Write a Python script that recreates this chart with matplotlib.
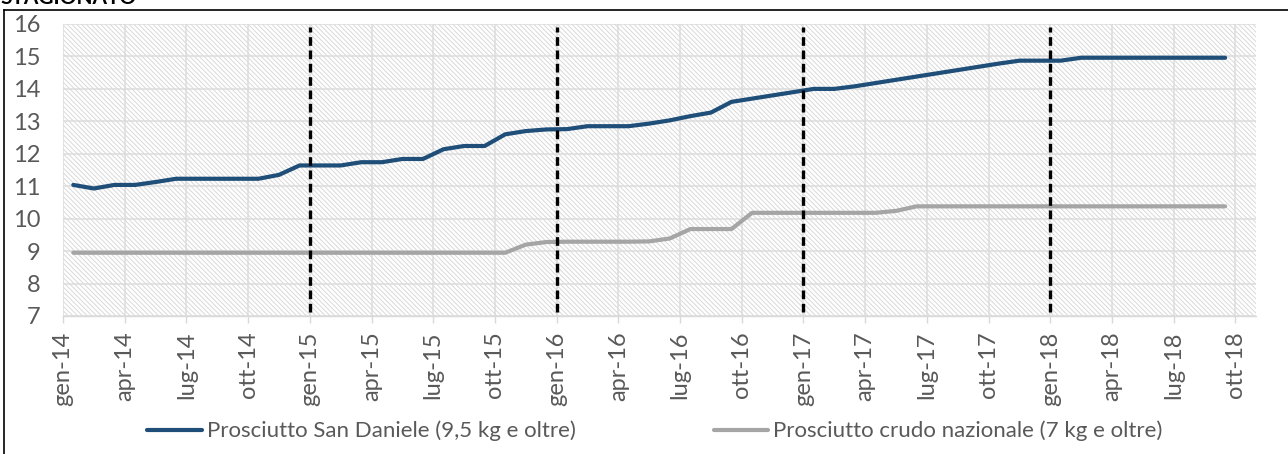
import matplotlib
matplotlib.use("Agg")
import matplotlib.pyplot as plt
import numpy as np
from matplotlib.patches import Rectangle
from matplotlib.lines import Line2D

plt.rcParams['font.family'] = ['Lato', 'DejaVu Sans']
plt.rcParams['hatch.linewidth'] = 0.7

# ---------------- data ----------------
title = "STAGIONATO"
series_names = ["Prosciutto San Daniele (9,5 kg e oltre)",
                "Prosciutto crudo nazionale (7 kg e oltre)"]
# monthly values gen-14 .. set-18 (57 months)
san_daniele = [11.04, 10.93, 11.04, 11.04, 11.13, 11.23, 11.23, 11.23, 11.23, 11.23, 11.35, 11.64,   # 2014
               11.64, 11.64, 11.74, 11.74, 11.84, 11.84, 12.14, 12.24, 12.24, 12.60, 12.70, 12.75,   # 2015
               12.76, 12.85, 12.85, 12.85, 12.93, 13.03, 13.16, 13.27, 13.60, 13.70, 13.80, 13.90,   # 2016
               14.00, 14.00, 14.08, 14.18, 14.28, 14.38, 14.48, 14.58, 14.68, 14.78, 14.87, 14.87,   # 2017
               14.87, 14.96, 14.96, 14.96, 14.96, 14.96, 14.96, 14.96, 14.96]                        # 2018
crudo_nazionale = [8.95, 8.95, 8.95, 8.95, 8.95, 8.95, 8.95, 8.95, 8.95, 8.95, 8.95, 8.95,          # 2014
                   8.95, 8.95, 8.95, 8.95, 8.95, 8.95, 8.95, 8.95, 8.95, 8.95, 9.20, 9.28,          # 2015
                   9.29, 9.29, 9.29, 9.29, 9.30, 9.39, 9.68, 9.68, 9.68, 10.18, 10.18, 10.18,       # 2016
                   10.18, 10.18, 10.18, 10.18, 10.24, 10.38, 10.38, 10.38, 10.38, 10.38, 10.38, 10.38,  # 2017
                   10.38, 10.38, 10.38, 10.38, 10.38, 10.38, 10.38, 10.38, 10.38]                  # 2018
tick_labels = ["gen-14", "apr-14", "lug-14", "ott-14",
               "gen-15", "apr-15", "lug-15", "ott-15",
               "gen-16", "apr-16", "lug-16", "ott-16",
               "gen-17", "apr-17", "lug-17", "ott-17",
               "gen-18", "apr-18", "lug-18", "ott-18"]
year_marks = ["gen-15", "gen-16", "gen-17", "gen-18"]
y_ticks = [7, 8, 9, 10, 11, 12, 13, 14, 15, 16]

# ---------------- layout ----------------
W, H = 1288, 454
fig = plt.figure(figsize=(W / 100, H / 100), dpi=100)
L, R, T, B = 63, 1256, 24, 316
ax = fig.add_axes([L / W, 1 - B / H, (R - L) / W, (B - T) / H])

months_total = 58  # gen-14 .. ott-18 slots
x_pts = np.arange(len(san_daniele)) + 0.5
tick_pos = [3 * i for i in range(len(tick_labels))]

ax.set_xlim(0, months_total)
ax.set_ylim(min(y_ticks), max(y_ticks))

# hatched plot area
bg = Rectangle((0, 0), 1, 1, transform=ax.transAxes, facecolor='white',
               edgecolor='#d9d9d9', hatch='\\\\\\\\\\\\\\', lw=0, zorder=0.1)
ax.add_patch(bg)
ax.patch.set_visible(False)

ax.set_axisbelow(True)
ax.grid(True, color='#dcdcdc', lw=1.1)

ax.plot(x_pts, san_daniele, color='#1F4E79', lw=3.0, solid_joinstyle='round',
        solid_capstyle='round', label=series_names[0], zorder=3)
ax.plot(x_pts, crudo_nazionale, color='#A5A5A5', lw=3.0, solid_joinstyle='round',
        solid_capstyle='round', label=series_names[1], zorder=3)

for lab in year_marks:
    xv = tick_pos[tick_labels.index(lab)]
    ax.plot([xv, xv], [7.12, 15.92], color='black', lw=2.4,
            dashes=(2.6, 1.4), dash_capstyle='butt', zorder=4)

ax.set_xticks(tick_pos)
ax.set_xticklabels(tick_labels, rotation=90, fontsize=17, color='#595959')
ax.set_yticks(y_ticks)
ax.set_yticklabels([str(v) for v in y_ticks], fontsize=17, color='#595959')

for s in ['top', 'right', 'left']:
    ax.spines[s].set_visible(False)
ax.spines['bottom'].set_color('#d9d9d9')
ax.spines['bottom'].set_linewidth(1.0)
ax.tick_params(axis='x', length=5, width=1, color='#d9d9d9', pad=6)
ax.tick_params(axis='y', length=0, pad=16)

leg = ax.legend(ncol=2, loc='center', bbox_to_anchor=(655 / W, 1 - 431 / H),
                bbox_transform=fig.transFigure, frameon=False, fontsize=16,
                handlelength=2.45, handletextpad=0.23, columnspacing=6.2,
                labelcolor='#595959')

# title (cropped) and outer frame
fig.text(0.0, 1 - 3.5 / H, title, fontsize=15, fontweight='bold', color='black',
         ha='left', va='baseline')
fig.add_artist(Line2D([4 / W, 1], [1 - 10 / H, 1 - 10 / H], color='black', lw=1.2,
                      transform=fig.transFigure))
fig.add_artist(Line2D([4 / W, 4 / W], [0, 1 - 10 / H], color='black', lw=1.2,
                      transform=fig.transFigure))

fig.savefig('out.png', dpi=100)
